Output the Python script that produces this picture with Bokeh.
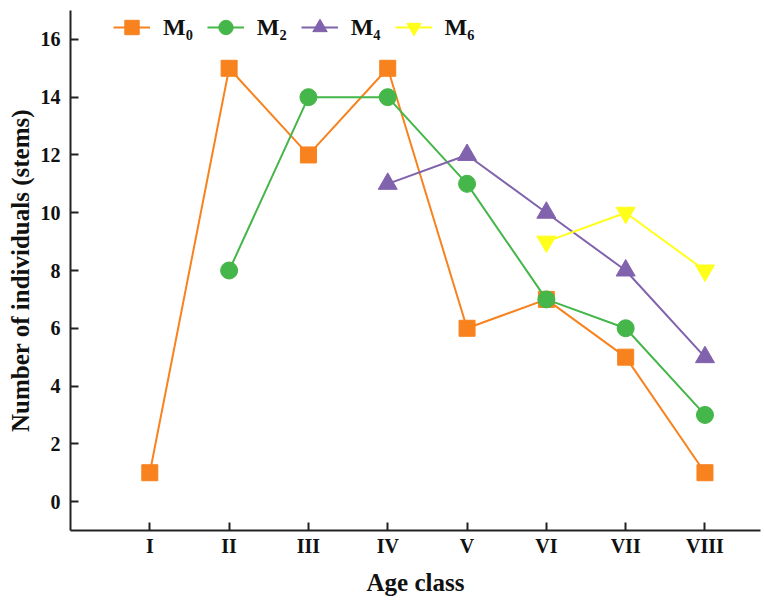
from bokeh.plotting import figure
from bokeh.embed import file_html
from bokeh.resources import INLINE
from bokeh.models import FixedTicker, Range1d, Legend, LegendItem

classes = ["I", "II", "III", "IV", "V", "VI", "VII", "VIII"]
m0_x = [1, 2, 3, 4, 5, 6, 7, 8]
m0_y = [1, 15, 12, 15, 6, 7, 5, 1]
m2_x = [2, 3, 4, 5, 6, 7, 8]
m2_y = [8, 14, 14, 11, 7, 6, 3]
m4_x = [4, 5, 6, 7, 8]
m4_y = [11, 12, 10, 8, 5]
m6_x = [6, 7, 8]
m6_y = [9, 10, 8]
y_ticks = [0, 2, 4, 6, 8, 10, 12, 14, 16]

FONT = "Liberation Serif"

p = figure(width=764, height=602, output_backend="svg", toolbar_location=None,
           x_range=Range1d(0, 8.7), y_range=Range1d(-1, 17),
           min_border_left=70, min_border_right=4, min_border_top=10, min_border_bottom=72)
p.outline_line_color = None
p.xgrid.visible = False
p.ygrid.visible = False
p.background_fill_color = "white"
p.border_fill_color = "white"

series = [
    ("M₀", m0_x, m0_y, "#F8821E", "square", 16),
    ("M₂", m2_x, m2_y, "#45B649", "circle", 17),
    ("M₄", m4_x, m4_y, "#8162AD", "triangle", 19),
    ("M₆", m6_x, m6_y, "#FFFF1A", "inverted_triangle", 19),
]
items = []
for name, xs, ys, col, mk, sz in series:
    l = p.line(xs, ys, line_color=col, line_width=2)
    s = p.scatter(xs, ys, marker=mk, size=sz, fill_color=col, line_color=col)
    items.append(LegendItem(label=name, renderers=[l, s]))

leg = Legend(items=items, orientation="horizontal", location=(43, 485),
             margin=0, padding=0, spacing=14, label_standoff=13,
             glyph_width=37, glyph_height=36, label_height=36,
             label_text_font=FONT, label_text_font_style="bold",
             label_text_font_size="24px", label_text_color="#111111",
             border_line_color=None, background_fill_alpha=0)
p.add_layout(leg, "center")

for ax in (p.xaxis, p.yaxis):
    ax.axis_line_width = 2
    ax.axis_line_color = "#222222"
    ax.major_tick_line_color = "#222222"
    ax.major_tick_line_width = 2
    ax.major_tick_in = 8
    ax.major_tick_out = 0
    ax.minor_tick_line_color = None
    ax.major_label_text_font = FONT
    ax.major_label_text_font_style = "bold"
    ax.major_label_text_font_size = "20px"
    ax.major_label_text_color = "#111111"
    ax.axis_label_text_font = FONT
    ax.axis_label_text_font_style = "bold"
    ax.axis_label_text_font_size = "25px"
    ax.axis_label_text_color = "#111111"

p.xaxis.ticker = FixedTicker(ticks=m0_x)
p.xaxis.major_label_overrides = {i + 1: c for i, c in enumerate(classes)}
p.xaxis.major_label_standoff = 4
p.xaxis.axis_label = "Age class"
p.xaxis.axis_label_standoff = 9

p.yaxis.ticker = FixedTicker(ticks=y_ticks)
p.yaxis.major_label_standoff = 10
p.yaxis.axis_label = "Number of individuals (stems)"
p.yaxis.axis_label_standoff = 4

open("out.html", "w").write(file_html(p, INLINE))
